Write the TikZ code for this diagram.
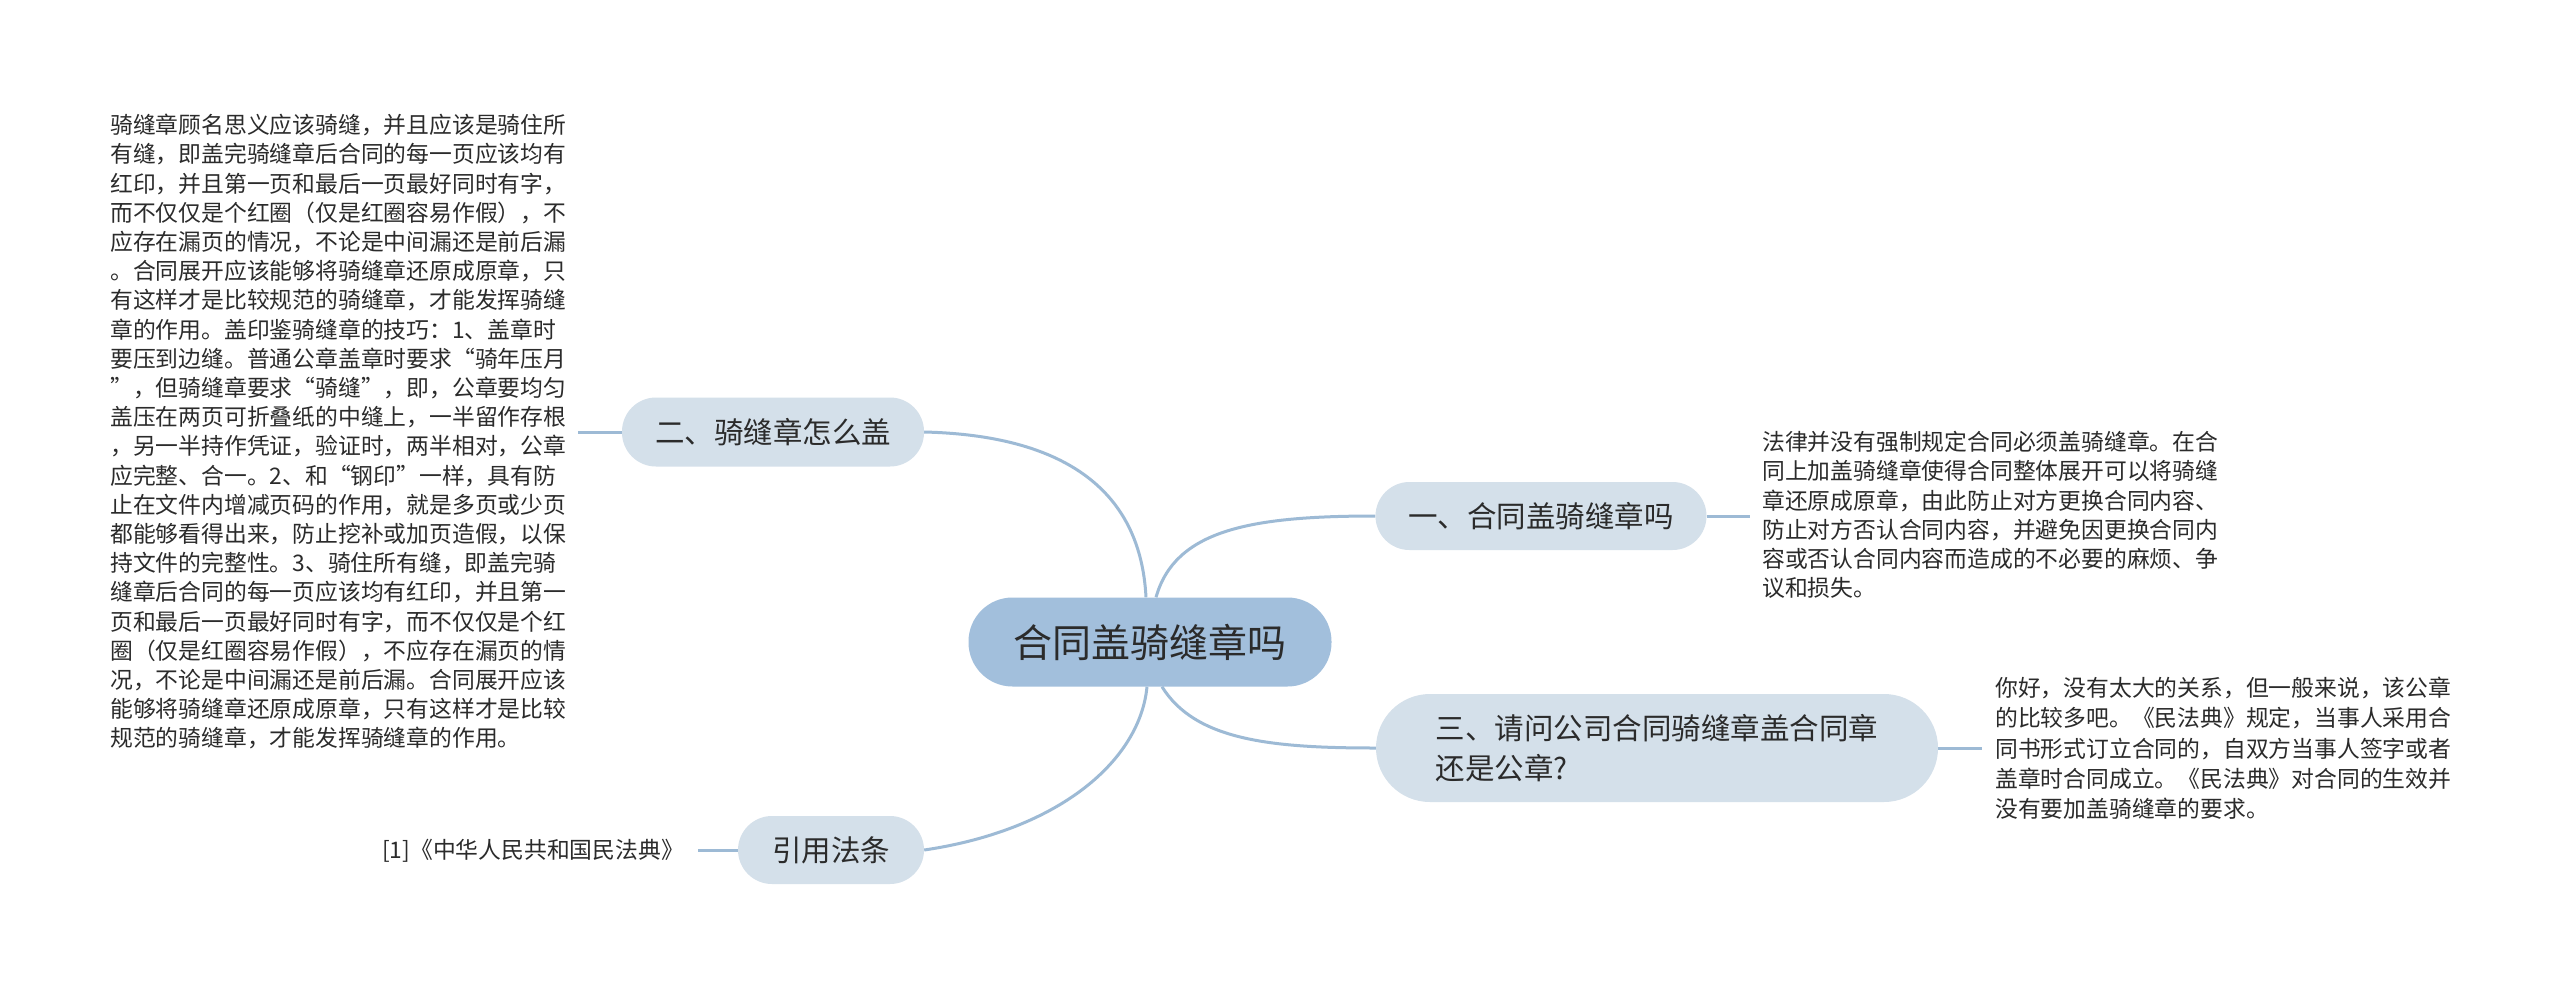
\documentclass[tikz,border=0pt]{standalone}
\usepackage{fontspec}
\setmainfont{Noto Sans CJK SC}
\pgfdeclarelayer{paper}
\pgfdeclarelayer{background}
\pgfsetlayers{paper,background,main}
\definecolor{linec}{HTML}{9DBAD5}
\definecolor{rootc}{HTML}{A2BFDC}
\definecolor{subc}{HTML}{D4E0EA}
\definecolor{txtc}{HTML}{2B2B2B}
\tikzset{
  conn/.style={draw=linec, line width=3pt},
  rootbox/.style={fill=rootc, rounded corners=44pt, minimum width=363pt, minimum height=89pt, inner sep=0pt, text=txtc, font=\fontsize{39}{47}\selectfont},
  subbox/.style={fill=subc, inner sep=0pt, text=txtc, font=\fontsize{29.5}{40}\selectfont},
  bodytext/.style={inner sep=0pt, align=left, text=txtc, font=\fontsize{22.8}{29.2}\selectfont, anchor=north west},
}
\begin{document}
\begin{tikzpicture}[x=1pt,y=-1pt]
\useasboundingbox (0,0) rectangle (2560,983);
\begin{pgfonlayer}{paper}
\fill[white] (0,0) rectangle (2560,983);
\end{pgfonlayer}

\node[rootbox] (root) at (1150,642) {合同盖骑缝章吗};
\node[subbox, minimum width=302pt, minimum height=69pt, rounded corners=34pt] (b2) at (773,432) {二、骑缝章怎么盖};
\node[subbox, minimum width=331pt, minimum height=68pt, rounded corners=34pt] (b1) at (1541,516) {一、合同盖骑缝章吗};
\node[subbox, minimum width=562pt, minimum height=108pt, rounded corners=54pt, align=left] (b3) at (1657,748) {三、请问公司合同骑缝章盖合同章\\还是公章?};
\node[subbox, minimum width=186pt, minimum height=68pt, rounded corners=34pt] (b4) at (831,850) {引用法条};

\node[bodytext] (t2) at (110,114) {骑缝章顾名思义应该骑缝，并且应该是骑住所\\
有缝，即盖完骑缝章后合同的每一页应该均有\\
红印，并且第一页和最后一页最好同时有字，\\
而不仅仅是个红圈（仅是红圈容易作假），不\\
应存在漏页的情况，不论是中间漏还是前后漏\\
。合同展开应该能够将骑缝章还原成原章，只\\
有这样才是比较规范的骑缝章，才能发挥骑缝\\
章的作用。盖印鉴骑缝章的技巧：1、盖章时\\
要压到边缝。普通公章盖章时要求“骑年压月\\
”，但骑缝章要求“骑缝”，即，公章要均匀\\
盖压在两页可折叠纸的中缝上，一半留作存根\\
，另一半持作凭证，验证时，两半相对，公章\\
应完整、合一。2、和“钢印”一样，具有防\\
止在文件内增减页码的作用，就是多页或少页\\
都能够看得出来，防止挖补或加页造假，以保\\
持文件的完整性。3、骑住所有缝，即盖完骑\\
缝章后合同的每一页应该均有红印，并且第一\\
页和最后一页最好同时有字，而不仅仅是个红\\
圈（仅是红圈容易作假），不应存在漏页的情\\
况，不论是中间漏还是前后漏。合同展开应该\\
能够将骑缝章还原成原章，只有这样才是比较\\
规范的骑缝章，才能发挥骑缝章的作用。};

\node[bodytext] (t1) at (1762,431) {法律并没有强制规定合同必须盖骑缝章。在合\\
同上加盖骑缝章使得合同整体展开可以将骑缝\\
章还原成原章，由此防止对方更换合同内容、\\
防止对方否认合同内容，并避免因更换合同内\\
容或否认合同内容而造成的不必要的麻烦、争\\
议和损失。};

\node[bodytext, font=\fontsize{22.8}{30.2}\selectfont] (t3) at (1995,677) {你好，没有太大的关系，但一般来说，该公章\\
的比较多吧。《民法典》规定，当事人采用合\\
同书形式订立合同的，自双方当事人签字或者\\
盖章时合同成立。《民法典》对合同的生效并\\
没有要加盖骑缝章的要求。};

\node[inner sep=0pt, text=txtc, font=\fontsize{22.8}{29}\selectfont, anchor=west] (t4) at (382,851) {[1]《中华人民共和国民法典》};

\begin{pgfonlayer}{background}
\draw[conn] (b2.east) .. controls (1050,435) and (1140,480) .. ([xshift=-4pt]root.north);
\draw[conn] ([xshift=6pt]root.north) .. controls (1175,530) and (1250,516) .. (b1.west);
\draw[conn] ([xshift=12pt]root.south) .. controls (1195,740) and (1270,748) .. (b3.west);
\draw[conn] ([xshift=-3pt]root.south) .. controls (1140,760) and (1060,830) .. (b4.east);
\draw[conn] (b2.west) -- ([xshift=12pt]b2.west -| t2.east);
\draw[conn] (b1.east) -- ([xshift=-12pt]b1.east -| t1.west);
\draw[conn] (b3.east) -- ([xshift=-13pt]b3.east -| t3.west);
\draw[conn] (b4.west) -- ([xshift=14pt]b4.west -| t4.east);
\end{pgfonlayer}
\end{tikzpicture}
\end{document}
